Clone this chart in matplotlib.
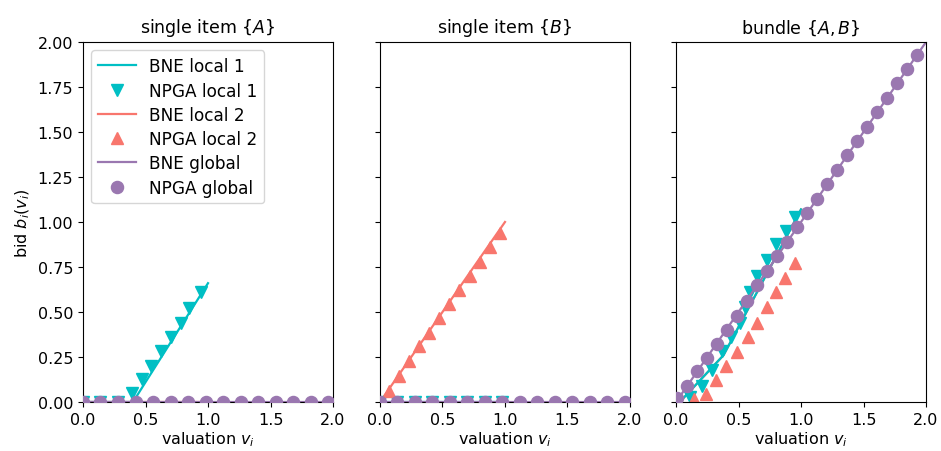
import matplotlib
matplotlib.use("Agg")
import matplotlib.pyplot as plt

# colours of the three bidders
c_local1 = "#00bfc4"
c_local2 = "#f8766d"
c_global = "#9a77b0"

titles = ["single item $\\{A\\}$", "single item $\\{B\\}$", "bundle $\\{A,B\\}$"]

# --- single item {A} ---
a_bne1_v = [0.0, 0.4, 1.0]
a_bne1_b = [0.0, 0.0, 0.66]
a_npga1_v = [0.0, 0.14, 0.28, 0.39, 0.47, 0.54, 0.62, 0.70, 0.78, 0.85, 0.94]
a_npga1_b = [0.0, 0.0, 0.0, 0.05, 0.13, 0.20, 0.285, 0.36, 0.44, 0.52, 0.61]
a_bne2_v = [0.0, 1.0]
a_bne2_b = [0.0, 0.0]
a_npga2_v = [0.0, 0.14, 0.28, 0.42, 0.56, 0.70, 0.84, 0.98]
a_npga2_b = [0.0, 0.0, 0.0, 0.0, 0.0, 0.0, 0.0, 0.0]
a_bneg_v = [0.0, 2.0]
a_bneg_b = [0.0, 0.0]
a_npgag_v = [0.0, 0.14, 0.28, 0.42, 0.56, 0.70, 0.84, 0.98, 1.12, 1.26, 1.40,
             1.54, 1.68, 1.82, 1.96]
a_npgag_b = [0.0] * 15

# --- single item {B} ---
b_bne1_v = [0.0, 1.0]
b_bne1_b = [0.0, 0.0]
b_npga1_v = [0.0, 0.14, 0.28, 0.42, 0.56, 0.70, 0.84, 0.98]
b_npga1_b = [0.0, 0.0, 0.0, 0.0, 0.0, 0.0, 0.0, 0.0]
b_bne2_v = [0.0, 1.0]
b_bne2_b = [0.0, 1.0]
b_npga2_v = [0.0, 0.07, 0.15, 0.23, 0.31, 0.39, 0.47, 0.55, 0.63, 0.72, 0.80,
             0.88, 0.96]
b_npga2_b = [0.0, 0.06, 0.145, 0.23, 0.31, 0.385, 0.465, 0.545, 0.62, 0.70,
             0.78, 0.86, 0.94]
b_bneg_v = [0.0, 2.0]
b_bneg_b = [0.0, 0.0]
b_npgag_v = [0.0, 0.14, 0.28, 0.42, 0.56, 0.70, 0.84, 0.98, 1.12, 1.26, 1.40,
             1.54, 1.68, 1.82, 1.96]
b_npgag_b = [0.0] * 15

# --- bundle {A,B} ---
ab_bne1_v = [0.03, 0.38, 1.0]
ab_bne1_b = [0.0, 0.26, 1.07]
ab_npga1_v = [0.0, 0.115, 0.21, 0.29, 0.37, 0.44, 0.51, 0.55, 0.59, 0.65,
              0.73, 0.80, 0.88, 0.95]
ab_npga1_b = [0.0, 0.026, 0.09, 0.18, 0.285, 0.36, 0.44, 0.525, 0.61, 0.70,
              0.79, 0.88, 0.95, 1.026]
ab_bne2_v = [0.03, 0.38, 1.0]
ab_bne2_b = [0.0, 0.26, 1.07]
ab_npga2_v = [0.02, 0.14, 0.24, 0.32, 0.40, 0.49, 0.575, 0.65, 0.725, 0.80,
              0.87, 0.95]
ab_npga2_b = [0.0, 0.017, 0.044, 0.124, 0.20, 0.28, 0.36, 0.44, 0.53, 0.61,
              0.69, 0.77]
ab_bneg_v = [0.0, 2.0]
ab_bneg_b = [0.0, 2.0]
ab_npgag_v = [0.01, 0.09, 0.17, 0.25, 0.33, 0.41, 0.49, 0.57, 0.65, 0.73,
              0.81, 0.89, 0.97, 1.05, 1.13, 1.21, 1.29, 1.37, 1.45, 1.53,
              1.61, 1.69, 1.77, 1.85, 1.93]
ab_npgag_b = [0.02, 0.09, 0.17, 0.245, 0.32, 0.40, 0.48, 0.56, 0.65, 0.73,
              0.81, 0.89, 0.97, 1.05, 1.13, 1.21, 1.29, 1.37, 1.45, 1.53,
              1.61, 1.69, 1.77, 1.85, 1.93]

panels = [
    (a_bne1_v, a_bne1_b, a_npga1_v, a_npga1_b, a_bne2_v, a_bne2_b,
     a_npga2_v, a_npga2_b, a_bneg_v, a_bneg_b, a_npgag_v, a_npgag_b),
    (b_bne1_v, b_bne1_b, b_npga1_v, b_npga1_b, b_bne2_v, b_bne2_b,
     b_npga2_v, b_npga2_b, b_bneg_v, b_bneg_b, b_npgag_v, b_npgag_b),
    (ab_bne1_v, ab_bne1_b, ab_npga1_v, ab_npga1_b, ab_bne2_v, ab_bne2_b,
     ab_npga2_v, ab_npga2_b, ab_bneg_v, ab_bneg_b, ab_npgag_v, ab_npgag_b),
]

plt.rcParams["font.size"] = 11.5
plt.rcParams["mathtext.fontset"] = "dejavusans"

fig = plt.figure(figsize=(9.41, 4.52), dpi=100)
lefts = [0.0882, 0.4038, 0.7184]
axes = []
for i, left in enumerate(lefts):
    ax = fig.add_axes([left, 0.1084, 0.2657, 0.7965],
                      sharey=axes[0] if axes else None)
    axes.append(ax)

ms = 8.7
lw = 1.6
for i, (ax, d) in enumerate(zip(axes, panels)):
    ax.plot(d[0], d[1], color=c_local1, lw=lw, label="BNE local 1", zorder=2.2)
    ax.plot(d[2], d[3], "v", color=c_local1, ms=ms, ls="none",
            label="NPGA local 1", zorder=2.3)
    # local 2 equilibrium line sits underneath local 1 where they coincide
    ax.plot(d[4], d[5], color=c_local2, lw=lw, label="BNE local 2", zorder=2.1)
    ax.plot(d[6], d[7], "^", color=c_local2, ms=ms, ls="none",
            label="NPGA local 2", zorder=2.4)
    ax.plot(d[8], d[9], color=c_global, lw=lw, label="BNE global", zorder=2.5)
    ax.plot(d[10], d[11], "o", color=c_global, ms=ms, ls="none",
            label="NPGA global", zorder=2.6)

    ax.set_xlim(0, 2)
    ax.set_ylim(0, 2)
    ax.set_xticks([0.0, 0.5, 1.0, 1.5, 2.0])
    ax.set_yticks([0.0, 0.25, 0.5, 0.75, 1.0, 1.25, 1.5, 1.75, 2.0])
    ax.set_title(titles[i], fontsize=12.5, pad=7)
    ax.set_xlabel("valuation $v_i$", labelpad=2)
    if i == 0:
        ax.set_ylabel("bid $b_i(v_i)$")
        ax.set_yticklabels(["0.00", "0.25", "0.50", "0.75", "1.00", "1.25",
                            "1.50", "1.75", "2.00"])
    else:
        ax.tick_params(labelleft=False)

handles, labels = axes[0].get_legend_handles_labels()
axes[0].legend(handles, labels, loc="upper left", fontsize=12.2,
               handlelength=2.2, handletextpad=0.8, labelspacing=0.37,
               borderaxespad=0.5)

fig.savefig("out.png", dpi=100)
